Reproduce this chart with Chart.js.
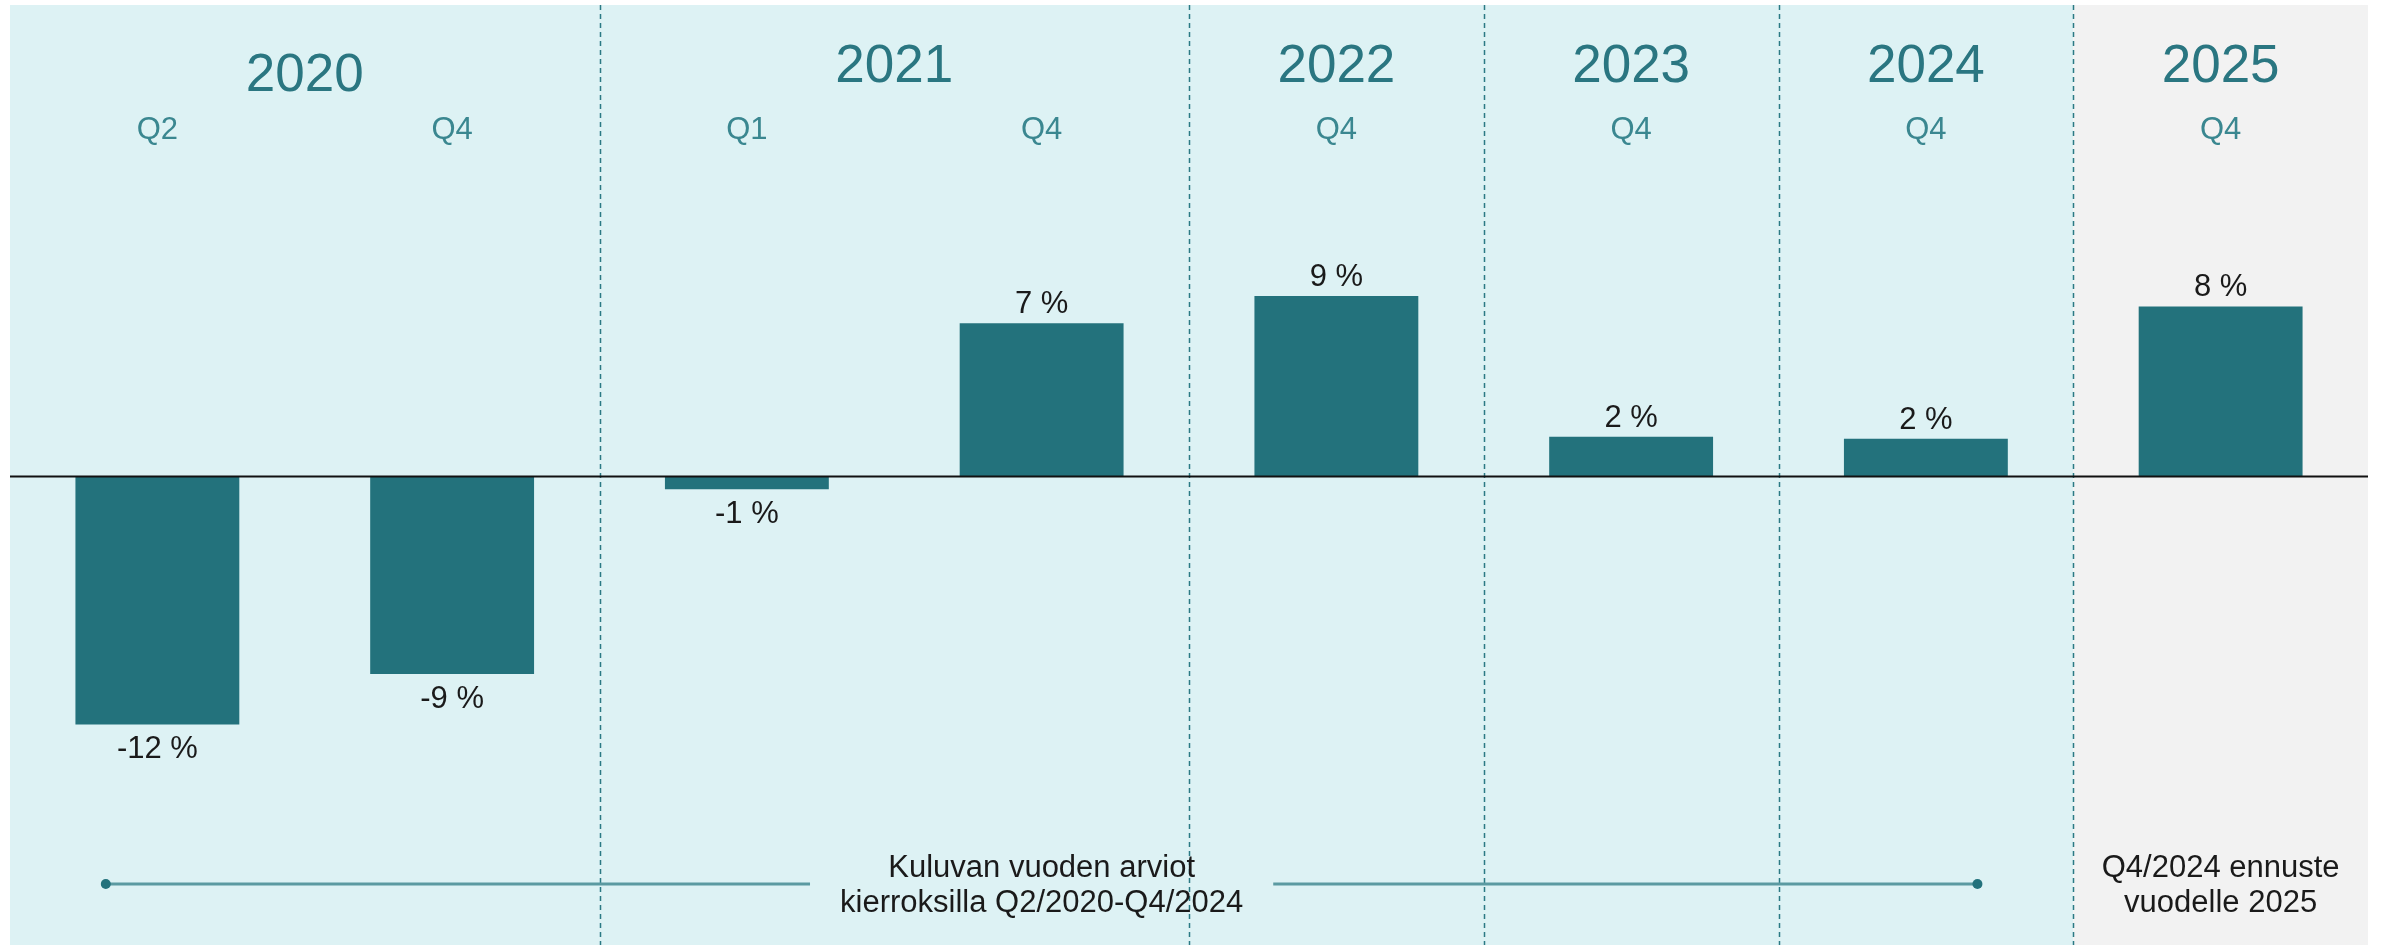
<!DOCTYPE html>
<html>
<head>
<meta charset="utf-8">
<script src="https://cdn.jsdelivr.net/npm/chart.js@4"></script>
<style>
    body { margin: 0; background: #ffffff; }
    canvas { display: block; }
</style>
</head>
<body>
<canvas id="myChart" width="2382" height="948"></canvas>
<script>
// data
const years = ['2020', '2020', '2021', '2021', '2022', '2023', '2024', '2025'];
const quarters = ['Q2', 'Q4', 'Q1', 'Q4', 'Q4', 'Q4', 'Q4', 'Q4'];
const changes = [-11.8, -9.4, -0.6, 7.3, 8.6, 1.9, 1.8, 8.1];
const forecastIndex = 7;
const noteLeft = ['Kuluvan vuoden arviot', 'kierroksilla Q2/2020-Q4/2024'];
const noteRight = ['Q4/2024 ennuste', 'vuodelle 2025'];

const labels = years.map((y, i) => y + ' ' + quarters[i]);
const font = '"Liberation Sans", Arial, sans-serif';
const teal = '#23727c';

// group consecutive categories that share a year
function yearGroups() {
    const groups = [];
    years.forEach((y, i) => {
        const last = groups[groups.length - 1];
        if (last && last.year === y) {
            last.to = i;
        } else {
            groups.push({ year: y, from: i, to: i });
        }
    });
    return groups;
}

const decorations = {
    id: 'decorations',
    beforeDatasetsDraw(chart) {
        const ctx = chart.ctx;
        const area = chart.chartArea;
        const x = chart.scales.x;
        const half = (x.getPixelForValue(1) - x.getPixelForValue(0)) / 2;

        ctx.save();
        // background bands
        const split = x.getPixelForValue(forecastIndex) - half;
        ctx.fillStyle = '#ddf2f4';
        ctx.fillRect(area.left, area.top, split - area.left, area.bottom - area.top);
        ctx.fillStyle = '#f2f2f2';
        ctx.fillRect(split, area.top, area.right - split, area.bottom - area.top);

        // dashed year separators
        const groups = yearGroups();
        ctx.strokeStyle = '#2b7a84';
        ctx.lineWidth = 1.5;
        ctx.setLineDash([5, 4]);
        groups.slice(0, -1).forEach(g => {
            const px = Math.round(x.getPixelForValue(g.to) + half) + 0.5;
            ctx.beginPath();
            ctx.moveTo(px, area.top);
            ctx.lineTo(px, area.bottom);
            ctx.stroke();
        });
        ctx.setLineDash([]);

        // year and quarter headings (the first year sits a bit lower)
        ctx.textAlign = 'center';
        ctx.textBaseline = 'alphabetic';
        ctx.fillStyle = '#2a7681';
        ctx.font = '53px ' + font;
        groups.forEach((g, gi) => {
            const cx = (x.getPixelForValue(g.from) + x.getPixelForValue(g.to)) / 2;
            const by = gi === 0 ? 91 : 82;
            ctx.fillText(g.year, cx, by);
        });
        ctx.fillStyle = '#3a8790';
        ctx.font = '31px ' + font;
        quarters.forEach((q, i) => {
            ctx.fillText(q, x.getPixelForValue(i), 139);
        });

        // bottom notes
        ctx.fillStyle = '#1a1a1a';
        ctx.font = '31px ' + font;
        const leftCenter = (x.getPixelForValue(0) + x.getPixelForValue(forecastIndex - 1)) / 2;
        noteLeft.forEach((t, i) => ctx.fillText(t, leftCenter, 877 + i * 35));
        noteRight.forEach((t, i) => ctx.fillText(t, x.getPixelForValue(forecastIndex), 877 + i * 35));

        const gap = Math.max(...noteLeft.map(t => ctx.measureText(t).width)) / 2 + 30;
        const lineStart = x.getPixelForValue(0) - half * 0.35;
        const lineEnd = x.getPixelForValue(forecastIndex - 1) + half * 0.35;
        const ly = 884;
        ctx.strokeStyle = '#5b9aa1';
        ctx.lineWidth = 3;
        ctx.beginPath();
        ctx.moveTo(lineStart, ly);
        ctx.lineTo(leftCenter - gap, ly);
        ctx.moveTo(leftCenter + gap, ly);
        ctx.lineTo(lineEnd, ly);
        ctx.stroke();
        ctx.fillStyle = teal;
        [lineStart, lineEnd].forEach(px => {
            ctx.beginPath();
            ctx.arc(px, ly, 5, 0, Math.PI * 2);
            ctx.fill();
        });
        ctx.restore();
    },
    afterDatasetsDraw(chart) {
        const ctx = chart.ctx;
        const area = chart.chartArea;
        const zero = chart.scales.y.getPixelForValue(0);

        ctx.save();
        ctx.strokeStyle = '#111111';
        ctx.lineWidth = 2;
        ctx.beginPath();
        ctx.moveTo(area.left, zero);
        ctx.lineTo(area.right, zero);
        ctx.stroke();

        // value labels
        ctx.fillStyle = '#1a1a1a';
        ctx.font = '31px ' + font;
        ctx.textAlign = 'center';
        ctx.textBaseline = 'alphabetic';
        chart.getDatasetMeta(0).data.forEach((bar, i) => {
            const v = changes[i];
            const text = Math.round(v) + ' %';
            if (v >= 0) {
                ctx.fillText(text, bar.x, bar.y - 10);
            } else {
                ctx.fillText(text, bar.x, bar.y + 34);
            }
        });
        ctx.restore();
    }
};

const ctx = document.getElementById('myChart');
const myChart = new Chart(ctx, {
    type: 'bar',
    data: {
        labels: labels,
        datasets: [{
            label: 'Muutos',
            data: changes,
            backgroundColor: teal,
            borderWidth: 0,
            barPercentage: 0.556,
            categoryPercentage: 1
        }]
    },
    options: {
        responsive: false,
        animation: false,
        layout: {
            padding: { top: 5, bottom: 3, left: 10, right: 14 }
        },
        plugins: {
            legend: { display: false },
            tooltip: { enabled: false }
        },
        scales: {
            x: { display: false },
            y: { display: false, min: -22.3, max: 22.45 }
        }
    },
    plugins: [decorations]
});
</script>
</body>
</html>
